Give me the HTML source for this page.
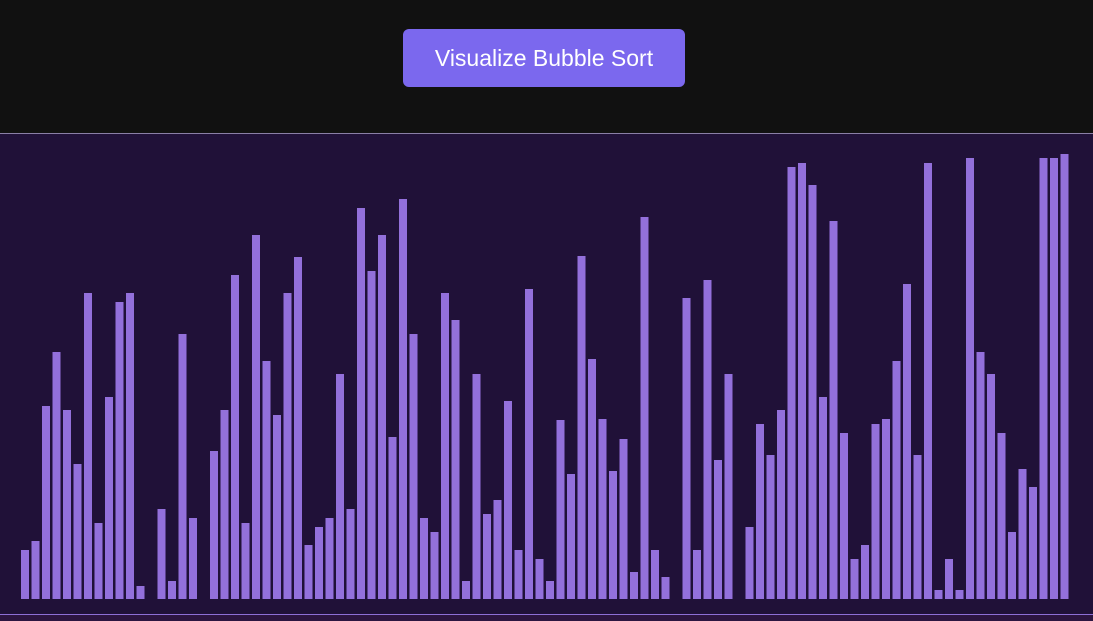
<!DOCTYPE html>
<html><head><meta charset="utf-8"><style>
html,body{margin:0;padding:0;width:1093px;height:621px;overflow:hidden;background:#111;font-family:"Liberation Sans",sans-serif}
#top{position:absolute;left:0;top:0;width:1093px;height:133px;background:#111}
#btn{position:absolute;left:403px;top:29px;width:282px;height:58px;background:#7b68ee;border-radius:6px;color:#fff;font-size:23px;line-height:58px;text-align:center;border:none;padding:0;font-family:"Liberation Sans",sans-serif}
#chart{position:absolute;left:0;top:133px;width:1093px;height:481px;background:#201138;border-top:1px solid #8a7fa6;box-sizing:border-box}
#svg{position:absolute;left:0;top:-1px}
#bottom{position:absolute;left:0;top:614px;width:1093px;height:7px;background:#2c1540;border-top:1px solid #8e6fd6;box-sizing:border-box}
</style></head><body>
<div id="top">
<button id="btn">Visualize Bubble Sort</button>
</div>
<div id="chart">
<svg id="svg" width="1093" height="481"></svg>
</div>
<div id="bottom"></div>
<script>
const tops = [550,541,406,352,410,464,293,523,397,302,293,586,599,509,581,334,518,599,451,410,275,523,235,361,415,293,257,545,527,518,374,509,208,271,235,437,199,334,518,532,293,320,581,374,514,500,401,550,289,559,581,420,474,256,359,419,471,439,572,217,550,577,599,298,550,280,460,374,599,527,424,455,410,167,163,185,397,221,433,559,545,424,419,361,284,455,163,590,559,590,158,352,374,433,532,469,487,158,158,154];
const values = tops.map(t => 599 - t);
const svg = document.getElementById('svg');
const NS = 'http://www.w3.org/2000/svg';
const baseY = 599 - 133;
function xPos(i){ return 21 + i * 10.5; }
function yPos(v){ return baseY - v; }
values.forEach((v, i) => {
  if (v <= 0) return;
  const r = document.createElementNS(NS, 'rect');
  r.setAttribute('x', xPos(i));
  r.setAttribute('y', yPos(v));
  r.setAttribute('width', 8);
  r.setAttribute('height', v);
  r.setAttribute('fill', '#9370db');
  
  
  svg.appendChild(r);
});
</script>
</body></html>
